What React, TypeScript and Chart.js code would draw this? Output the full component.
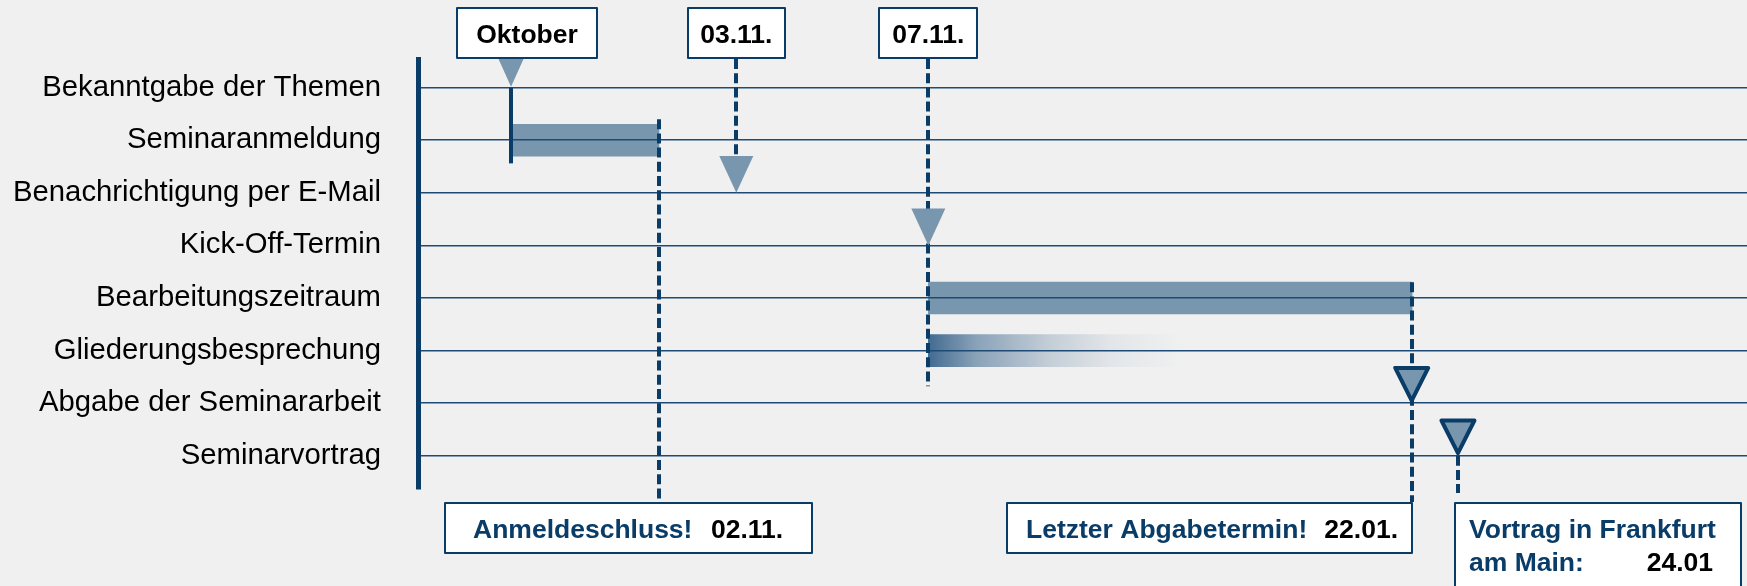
import React, { useEffect, useRef } from 'react';
import { Chart, registerables } from 'chart.js';

Chart.register(...registerables);

// ---------- data ----------
const activities = [
  'Bekanntgabe der Themen',
  'Seminaranmeldung',
  'Benachrichtigung per E-Mail',
  'Kick-Off-Termin',
  'Bearbeitungszeitraum',
  'Gliederungsbesprechung',
  'Abgabe der Seminararbeit',
  'Seminarvortrag',
];

// schematic timeline (0..100), not proportional to calendar days
const phaseRows = [1, 4, 5];
const phaseStart = [7.0, 38.4, 38.4];
const phaseEnd = [18.13, 74.8, 57.4];
const phaseFade = [false, false, true];

const milestoneRows = [0, 2, 3, 6, 7];
const milestonePos = [7.0, 23.95, 38.4, 74.77, 78.25];

const topLabels = ['Oktober', '03.11.', '07.11.'];
const topLabelPos = [7.0, 23.95, 38.4];

const bottomTitles = ['Anmeldeschluss!', 'Letzter Abgabetermin!', 'Vortrag in Frankfurt'];
const bottomSubtitles = ['', '', 'am Main:'];
const bottomDates = ['02.11.', '22.01.', '24.01'];
const bottomPos = [18.13, 74.77, 78.25];

// ---------- styles ----------
const NAVY = '#0a3c68';
const GRID = '#1d4b76';
const BAR = '#7896ad';
const BG = '#f0f0f0';
const FONT = '"Liberation Sans", Arial, Helvetica, sans-serif';

const TRI_STYLE = ['small', 'filled', 'filled', 'outline', 'outline'];
const TOP_BOX = [
  { dx: 16, w: 142 },
  { dx: 0, w: 99 },
  { dx: 0, w: 100 },
];
const BOTTOM_BOX = [
  { left: -215, w: 369, h: 52, textX: 29, dateX: 267, dateRight: null as number | null },
  { left: -405.5, w: 407, h: 52, textX: 20, dateX: null as number | null, dateRight: 15 },
  { left: -3.7, w: 288, h: 110, textX: 15, dateX: null as number | null, dateRight: 29 },
];

const overlayPlugin = {
  id: 'ganttOverlay',
  afterDraw(chart: any) {
    const { ctx, chartArea } = chart;
    const x = chart.scales.x;
    const y = chart.scales.y;
    const row = (i: number) => y.getPixelForValue(i);
    const gap = row(1) - row(0);
    const px = (v: number) => x.getPixelForValue(v);
    const topBoxTop = 7;
    const topBoxBottom = chartArea.top;
    const bottomBoxTop = chartArea.bottom + 13;

    ctx.save();

    // dashed guides
    const dashed = (xv: number, y0: number, y1: number) => {
      ctx.save();
      ctx.strokeStyle = NAVY;
      ctx.lineWidth = 4;
      ctx.setLineDash([10, 4.2]);
      ctx.beginPath();
      ctx.moveTo(Math.round(px(xv)), y0);
      ctx.lineTo(Math.round(px(xv)), y1);
      ctx.stroke();
      ctx.restore();
    };
    dashed(bottomPos[0], row(1) - 0.4 * gap, bottomBoxTop);
    dashed(topLabelPos[1], topBoxBottom, row(2) - 0.72 * gap);
    dashed(topLabelPos[2], topBoxBottom, row(5) + 0.68 * gap);
    dashed(bottomPos[1], row(4) - 0.3 * gap, bottomBoxTop);
    dashed(bottomPos[2], row(7), chartArea.bottom + 4);

    // solid start line (Oktober)
    ctx.strokeStyle = NAVY;
    ctx.lineWidth = 4;
    ctx.beginPath();
    ctx.moveTo(Math.round(px(milestonePos[0])), row(0));
    ctx.lineTo(Math.round(px(milestonePos[0])), row(1) + 0.44 * gap);
    ctx.stroke();

    // milestone triangles
    milestoneRows.forEach((r, i) => {
      const cx = px(milestonePos[i]);
      const tip = row(r);
      const style = TRI_STYLE[i];
      ctx.beginPath();
      if (style === 'small') {
        ctx.moveTo(cx - 12.5, topBoxBottom);
        ctx.lineTo(cx + 12.5, topBoxBottom);
        ctx.lineTo(cx, tip - 1);
        ctx.closePath();
        ctx.fillStyle = BAR;
        ctx.fill();
      } else if (style === 'filled') {
        const h = 0.7 * gap;
        ctx.moveTo(cx - 17, tip - h);
        ctx.lineTo(cx + 17, tip - h);
        ctx.lineTo(cx, tip);
        ctx.closePath();
        ctx.fillStyle = BAR;
        ctx.fill();
      } else {
        const h = 0.67 * gap;
        ctx.moveTo(cx - 16.5, tip - h);
        ctx.lineTo(cx + 16.5, tip - h);
        ctx.lineTo(cx, tip - 2.5);
        ctx.closePath();
        ctx.fillStyle = BAR;
        ctx.fill();
        ctx.lineWidth = 4;
        ctx.lineJoin = 'round';
        ctx.strokeStyle = NAVY;
        ctx.stroke();
      }
    });

    // top boxes
    ctx.font = `bold 26.5px ${FONT}`;
    ctx.textBaseline = 'alphabetic';
    topLabels.forEach((lab, i) => {
      const c = px(topLabelPos[i]) + TOP_BOX[i].dx;
      const w = TOP_BOX[i].w;
      const l = Math.round(c - w / 2);
      ctx.fillStyle = '#ffffff';
      ctx.fillRect(l, topBoxTop, w, topBoxBottom - topBoxTop);
      ctx.strokeStyle = NAVY;
      ctx.lineWidth = 2;
      ctx.strokeRect(l + 1, topBoxTop + 1, w - 2, topBoxBottom - topBoxTop - 2);
      ctx.fillStyle = '#000000';
      ctx.textAlign = 'center';
      ctx.fillText(lab, c, topBoxTop + 35.5);
    });

    // bottom boxes
    bottomTitles.forEach((title, i) => {
      const b = BOTTOM_BOX[i];
      const l = Math.round(px(bottomPos[i]) + b.left);
      const t = Math.round(bottomBoxTop);
      ctx.fillStyle = '#ffffff';
      ctx.fillRect(l, t, b.w, b.h);
      ctx.strokeStyle = NAVY;
      ctx.lineWidth = 2;
      ctx.strokeRect(l + 1, t + 1, b.w - 2, b.h - 2);
      ctx.textAlign = 'left';
      ctx.fillStyle = NAVY;
      ctx.fillText(title, l + b.textX, t + 36);
      const dateLine = bottomSubtitles[i] ? t + 69 : t + 36;
      if (bottomSubtitles[i]) ctx.fillText(bottomSubtitles[i], l + b.textX, dateLine);
      ctx.fillStyle = '#000000';
      if (b.dateRight !== null) {
        ctx.textAlign = 'right';
        ctx.fillText(bottomDates[i], l + b.w - b.dateRight, dateLine);
      } else {
        ctx.textAlign = 'left';
        ctx.fillText(bottomDates[i], l + (b.dateX as number), dateLine);
      }
    });

    ctx.restore();
  },
};

export default function App() {
  const canvasRef = useRef<HTMLCanvasElement | null>(null);

  useEffect(() => {
    const canvas = canvasRef.current;
    if (!canvas) return;
    const chart = new Chart(canvas, {
      type: 'bar',
      data: {
        datasets: [
          {
            data: phaseRows.map((r, i) => ({ x: [phaseStart[i], phaseEnd[i]], y: r })) as any,
            backgroundColor: (c: any) => {
              const i = c.dataIndex;
              if (i === undefined || !phaseFade[i]) return BAR;
              const xs = c.chart.scales.x;
              if (!xs) return BAR;
              const x0 = xs.getPixelForValue(phaseStart[i]);
              const x1 = xs.getPixelForValue(phaseEnd[i]);
              const g = c.chart.ctx.createLinearGradient(x0, 0, x1, 0);
              g.addColorStop(0, '#426b91');
              g.addColorStop(0.19, '#8aa2b8');
              g.addColorStop(0.48, '#c4ced7');
              g.addColorStop(0.73, '#e3e6e9');
              g.addColorStop(1, '#eff0f0');
              return g;
            },
            borderWidth: 0,
            barThickness: 32,
          },
        ],
      },
      options: {
        indexAxis: 'y',
        responsive: false,
        maintainAspectRatio: false,
        devicePixelRatio: 1,
        animation: false,
        events: [],
        layout: { padding: { top: 59, bottom: 97, left: 0, right: 0 } },
        plugins: { legend: { display: false }, tooltip: { enabled: false } },
        scales: {
          x: { type: 'linear', min: 0, max: 100, display: false },
          y: {
            type: 'linear',
            reverse: true,
            offset: false,
            min: -0.545,
            max: 7.633,
            afterBuildTicks: (s: any) => {
              s.ticks = activities.map((_, i) => ({ value: i }));
            },
            afterFit: (s: any) => {
              s.width = 418;
            },
            grid: { color: GRID, lineWidth: 1.5, drawTicks: false, offset: false, z: 1 },
            border: { display: true, color: NAVY, width: 5, z: 1 },
            ticks: {
              padding: 37,
              color: '#000000',
              font: { family: FONT, size: 29.3 },
              callback: (v: any) => activities[v as number] ?? '',
            },
          },
        },
      } as any,
      plugins: [overlayPlugin],
    });
    return () => chart.destroy();
  }, []);

  return (
    <div
      style={{
        position: 'fixed',
        left: 0,
        top: 0,
        width: 1747,
        height: 586,
        background: BG,
        overflow: 'hidden',
      }}
    >
      <canvas ref={canvasRef} width={1747} height={586} style={{ display: 'block' }} />
    </div>
  );
}
